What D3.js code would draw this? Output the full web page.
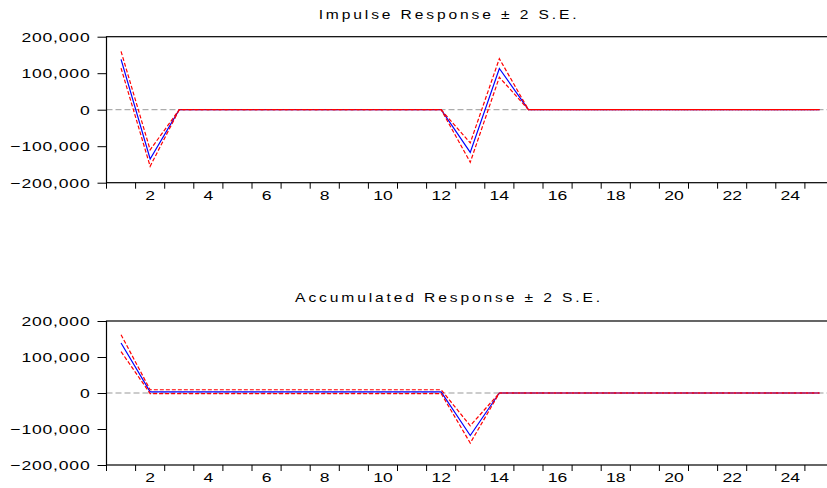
<!DOCTYPE html>
<html>
<head>
<meta charset="utf-8">
<script src="https://cdn.jsdelivr.net/npm/d3@7"></script>
<style>
  body { margin: 0; background: #fff; }
  svg { display: block; }
  text { font-family: "Liberation Sans", Arial, sans-serif; fill: #000; }
</style>
</head>
<body>
<svg id="chart" width="827" height="488"></svg>
<script>
// --- data ---
const periods = d3.range(1, 26);
const xTickLabels = [2, 4, 6, 8, 10, 12, 14, 16, 18, 20, 22, 24];
const yTicks = [200000, 100000, 0, -100000, -200000];

// Impulse response
const impulse = [138000, -135000, 0, 0, 0, 0, 0, 0, 0, 0, 0, 0, -117000, 113000, 0, 0, 0, 0, 0, 0, 0, 0, 0, 0, 0];
const impulseUpper = [160000, -110000, 0, 0, 0, 0, 0, 0, 0, 0, 0, 0, -91000, 140000, 0, 0, 0, 0, 0, 0, 0, 0, 0, 0, 0];
const impulseLower = [114000, -155000, 0, 0, 0, 0, 0, 0, 0, 0, 0, 0, -144000, 89000, 0, 0, 0, 0, 0, 0, 0, 0, 0, 0, 0];

// Accumulated response
const accum = [139000, 3000, 3000, 3000, 3000, 3000, 3000, 3000, 3000, 3000, 3000, 3000, -118000, 0, 0, 0, 0, 0, 0, 0, 0, 0, 0, 0, 0];
const accumUpper = [162000, 9000, 9000, 9000, 9000, 9000, 9000, 9000, 9000, 9000, 9000, 9000, -91000, 0, 0, 0, 0, 0, 0, 0, 0, 0, 0, 0, 0];
const accumLower = [115000, -1500, -1500, -1500, -1500, -1500, -1500, -1500, -1500, -1500, -1500, -1500, -139000, 0, 0, 0, 0, 0, 0, 0, 0, 0, 0, 0, 0];

const svg = d3.select("#chart");
const x = d3.scaleLinear().domain([0.5, 25.5]).range([106.5, 834]);
const sx = 1.35; // horizontal stretch of the labels

function panel(title, top, bottom, mid, upper, lower, titleY) {
    const y = d3.scaleLinear().domain([-200000, 200000]).range([bottom, top]);
    const g = svg.append("g");

    // zero line
    g.append("line")
        .attr("x1", x.range()[0]).attr("x2", x.range()[1])
        .attr("y1", y(0)).attr("y2", y(0))
        .attr("stroke", "#999").attr("stroke-width", 1)
        .attr("stroke-dasharray", "6,3");

    // frame
    g.append("rect")
        .attr("x", x.range()[0]).attr("y", top)
        .attr("width", x.range()[1] - x.range()[0]).attr("height", bottom - top)
        .attr("fill", "none").attr("stroke", "#000").attr("stroke-width", 1.2);

    // y axis
    const yAxis = g.append("g")
        .attr("transform", `translate(${x.range()[0]},0)`)
        .call(d3.axisLeft(y).tickValues(yTicks).tickSize(9).tickFormat(d3.format(",")));
    yAxis.select(".domain").remove();
    yAxis.selectAll("line").attr("stroke", "#000");
    yAxis.selectAll("text")
        .attr("font-size", 13)
        .attr("x", -16 / sx)
        .attr("dy", "0.36em")
        .style("letter-spacing", "0.6px")
        .attr("transform", `scale(${sx},1)`);

    // x axis: ticks on the period boundaries, labels in the middle
    const xAxis = g.append("g").attr("transform", `translate(0,${bottom})`);
    xAxis.selectAll("line")
        .data(d3.range(0.5, 26, 1))
        .join("line")
        .attr("x1", d => x(d)).attr("x2", d => x(d))
        .attr("y1", 0).attr("y2", 6)
        .attr("stroke", "#000");
    xAxis.selectAll("text")
        .data(xTickLabels)
        .join("text")
        .attr("font-size", 13)
        .attr("text-anchor", "middle")
        .attr("transform", d => `translate(${x(d)},17) scale(${sx},1)`)
        .text(d => d);

    const line = d3.line().x((d, i) => x(periods[i])).y(d => y(d));

    // blue response first, red bands drawn over it
    g.append("path").datum(mid).attr("d", line)
        .attr("fill", "none").attr("stroke", "#0000ff").attr("stroke-width", 1.2);
    g.append("path").datum(upper).attr("d", line)
        .attr("fill", "none").attr("stroke", "#ff0000").attr("stroke-width", 1.2)
        .attr("stroke-dasharray", "4,2");
    g.append("path").datum(lower).attr("d", line)
        .attr("fill", "none").attr("stroke", "#ff0000").attr("stroke-width", 1.2)
        .attr("stroke-dasharray", "4,2");

    // title
    g.append("text")
        .attr("text-anchor", "middle")
        .attr("font-size", 13)
        .style("letter-spacing", "2.4px")
        .attr("transform", `translate(449,${titleY}) scale(1.2,1)`)
        .text(title);
}

panel("Impulse Response ± 2 S.E.", 36.7, 182.7, impulse, impulseUpper, impulseLower, 18.5);
panel("Accumulated Response ± 2 S.E.", 321, 465, accum, accumUpper, accumLower, 301.5);
</script>
</body>
</html>
